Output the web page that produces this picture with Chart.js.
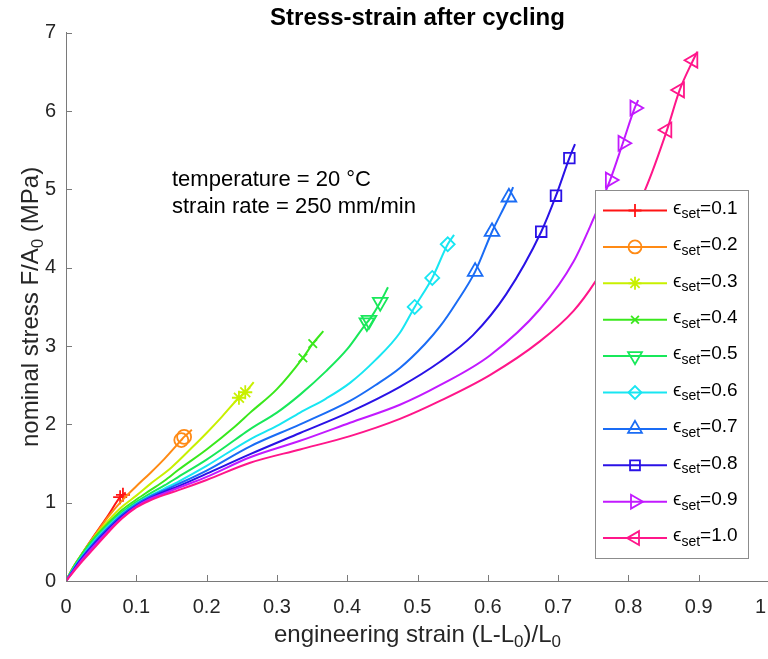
<!DOCTYPE html>
<html>
<head>
<meta charset="utf-8">
<script src="https://cdn.jsdelivr.net/npm/chart.js@4.4.1/dist/chart.umd.min.js"></script>
<style>
  html, body { margin: 0; padding: 0; background: #fff; overflow: hidden; }
  canvas { display: block; }
</style>
</head>
<body>
<canvas id="chart" width="800" height="659"></canvas>
<script>
const FONT = "'Liberation Sans', Arial, Helvetica, sans-serif";
const AXIS = '#7a7a7a';
const TEXT = '#262626';

// epsilon_set levels, one curve each
const levels = ['0.1', '0.2', '0.3', '0.4', '0.5', '0.6', '0.7', '0.8', '0.9', '1.0'];
const xTicks = [0, 0.1, 0.2, 0.3, 0.4, 0.5, 0.6, 0.7, 0.8, 0.9, 1];
const yTicks = [0, 1, 2, 3, 4, 5, 6, 7];

// [strain, stress MPa]
const curve01 = [[0,0],[0.01,0.17],[0.02,0.31],[0.04,0.58],[0.06,0.84],[0.077,1.07],[0.081,1.10],[0.085,1.13]];
const curve02 = [[0,0],[0.01,0.17],[0.02,0.31],[0.04,0.57],[0.06,0.82],[0.08,1.03],[0.1,1.21],[0.12,1.38],[0.14,1.56],[0.164,1.80],[0.168,1.84],[0.179,1.93]];
const curve03 = [[0,0],[0.01,0.17],[0.02,0.31],[0.04,0.56],[0.06,0.77],[0.08,0.95],[0.1,1.09],[0.12,1.24],[0.15,1.45],[0.18,1.71],[0.2,1.89],[0.22,2.08],[0.246,2.34],[0.255,2.41],[0.267,2.54]];
const curve04 = [[0,0],[0.01,0.17],[0.02,0.31],[0.04,0.55],[0.06,0.74],[0.08,0.91],[0.1,1.04],[0.12,1.16],[0.14,1.28],[0.16,1.42],[0.2,1.68],[0.24,1.97],[0.262,2.15],[0.3,2.45],[0.337,2.85],[0.351,3.03],[0.366,3.19]];
const curve05 = [[0,0],[0.01,0.16],[0.02,0.30],[0.04,0.53],[0.06,0.72],[0.08,0.88],[0.1,1.01],[0.12,1.12],[0.14,1.22],[0.16,1.33],[0.2,1.55],[0.24,1.80],[0.262,1.94],[0.3,2.15],[0.333,2.38],[0.37,2.68],[0.4,2.96],[0.428,3.30],[0.431,3.33],[0.447,3.56],[0.458,3.75]];
const curve06 = [[0,0],[0.01,0.15],[0.02,0.28],[0.04,0.51],[0.06,0.70],[0.08,0.86],[0.1,0.99],[0.12,1.09],[0.14,1.18],[0.16,1.27],[0.2,1.47],[0.262,1.81],[0.3,1.98],[0.333,2.15],[0.37,2.33],[0.404,2.53],[0.44,2.82],[0.475,3.17],[0.496,3.50],[0.521,3.87],[0.543,4.30],[0.552,4.42]];
const curve07 = [[0,0],[0.01,0.14],[0.02,0.27],[0.04,0.49],[0.06,0.68],[0.08,0.85],[0.1,0.98],[0.12,1.08],[0.14,1.16],[0.16,1.24],[0.2,1.41],[0.262,1.72],[0.333,2.0],[0.404,2.3],[0.44,2.5],[0.475,2.72],[0.51,3.02],[0.532,3.25],[0.555,3.55],[0.582,3.95],[0.606,4.46],[0.630,4.90],[0.636,5.03]];
const curve08 = [[0,0],[0.01,0.13],[0.02,0.26],[0.04,0.47],[0.06,0.66],[0.08,0.83],[0.1,0.96],[0.12,1.06],[0.14,1.14],[0.16,1.21],[0.2,1.37],[0.262,1.62],[0.333,1.89],[0.404,2.16],[0.475,2.48],[0.532,2.80],[0.579,3.14],[0.626,3.66],[0.676,4.46],[0.697,4.92],[0.716,5.40],[0.724,5.58]];
const curve09 = [[0,0],[0.01,0.12],[0.02,0.24],[0.04,0.45],[0.06,0.64],[0.08,0.81],[0.1,0.95],[0.12,1.05],[0.14,1.12],[0.16,1.19],[0.2,1.33],[0.262,1.58],[0.333,1.79],[0.404,2.02],[0.475,2.25],[0.532,2.50],[0.603,2.88],[0.674,3.47],[0.722,4.08],[0.753,4.68],[0.774,5.12],[0.792,5.59],[0.809,6.04],[0.814,6.14]];
const curve10 = [[0,0],[0.01,0.11],[0.02,0.22],[0.04,0.42],[0.06,0.62],[0.08,0.80],[0.1,0.94],[0.12,1.03],[0.14,1.10],[0.16,1.16],[0.2,1.29],[0.262,1.51],[0.333,1.68],[0.404,1.85],[0.475,2.07],[0.532,2.30],[0.603,2.63],[0.674,3.06],[0.722,3.45],[0.752,3.81],[0.79,4.40],[0.824,5.0],[0.855,5.76],[0.873,6.27],[0.892,6.65],[0.898,6.76]];

// cycle peaks marked on each curve
const peaks01 = [[0.077,1.07],[0.081,1.10]];
const peaks02 = [[0.164,1.80],[0.168,1.84]];
const peaks03 = [[0.246,2.34],[0.255,2.41]];
const peaks04 = [[0.337,2.85],[0.351,3.03]];
const peaks05 = [[0.428,3.30],[0.431,3.33],[0.447,3.56]];
const peaks06 = [[0.496,3.50],[0.521,3.87],[0.543,4.30]];
const peaks07 = [[0.582,3.95],[0.606,4.46],[0.630,4.90]];
const peaks08 = [[0.676,4.46],[0.697,4.92],[0.716,5.40]];
const peaks09 = [[0.774,5.12],[0.792,5.59],[0.809,6.04]];
const peaks10 = [[0.855,5.76],[0.873,6.27],[0.892,6.65]];

const curves = [curve01, curve02, curve03, curve04, curve05, curve06, curve07, curve08, curve09, curve10];
const peaks = [peaks01, peaks02, peaks03, peaks04, peaks05, peaks06, peaks07, peaks08, peaks09, peaks10];

const colors = ['#ff1414', '#ff8a14', '#c8f000', '#3ae81c', '#18e85a', '#18e6f2', '#1a6cf5', '#2a12e6', '#c21aff', '#ff168a'];
const markers = ['cross', 'circle', 'star', 'crossRot', 'triangle', 'rectRot', 'triangle', 'rect', 'triangle', 'triangle'];
const markerRot = [0, 0, 0, 0, 180, 0, 0, 0, 90, -90];
const markerSize = [7, 7, 7, 6, 8.5, 7, 8.5, 7.5, 8.5, 8.5];

const toXY = (pts) => pts.map(([x, y]) => ({ x, y }));

const datasets = [];
curves.forEach((c, i) => {
    datasets.push({
        label: 'eps ' + levels[i],
        data: toXY(c),
        borderColor: colors[i],
        borderWidth: 2,
        pointRadius: 0,
        cubicInterpolationMode: 'monotone',
        order: 20 - i * 2,
    });
    datasets.push({
        label: 'peaks ' + levels[i],
        data: toXY(peaks[i]),
        showLine: false,
        pointStyle: markers[i],
        pointRotation: markerRot[i],
        pointRadius: markerSize[i],
        pointBorderWidth: 1.8,
        pointBorderColor: colors[i],
        pointBackgroundColor: 'rgba(0,0,0,0)',
        order: 19 - i * 2,
    });
});

// text with subscripts: parts = [[text, isSub], ...]
function richText(ctx, parts, x, y, size, align) {
    const subSize = Math.round(size * 0.72);
    const widths = parts.map(([t, sub]) => {
        ctx.font = (sub ? subSize : size) + 'px ' + FONT;
        return ctx.measureText(t).width;
    });
    const total = widths.reduce((a, b) => a + b, 0);
    let cx = align === 'center' ? x - total / 2 : x;
    parts.forEach(([t, sub], k) => {
        ctx.font = (sub ? subSize : size) + 'px ' + FONT;
        ctx.fillText(t, cx, y + (sub ? size * 0.32 : 0));
        cx += widths[k];
    });
}

const decorations = {
    id: 'decorations',
    afterDraw(chart) {
        const { ctx, chartArea, scales } = chart;
        ctx.save();

        // inward ticks, MATLAB style
        ctx.strokeStyle = AXIS;
        ctx.lineWidth = 1;
        ctx.beginPath();
        xTicks.forEach((v) => {
            const px = Math.round(scales.x.getPixelForValue(v)) + 0.5;
            ctx.moveTo(px, chartArea.bottom);
            ctx.lineTo(px, chartArea.bottom - 6);
        });
        yTicks.forEach((v) => {
            const py = Math.round(scales.y.getPixelForValue(v)) + 0.5;
            ctx.moveTo(chartArea.left, py);
            ctx.lineTo(chartArea.left + 6, py);
        });
        ctx.stroke();

        // axis titles
        ctx.fillStyle = TEXT;
        ctx.textBaseline = 'middle';
        ctx.textAlign = 'left';
        const midX = (chartArea.left + chartArea.right) / 2;
        richText(ctx, [['engineering strain (L-L', false], ['0', true], [')/L', false], ['0', true]], midX, 635, 24, 'center');
        ctx.save();
        ctx.translate(31, (chartArea.top + chartArea.bottom) / 2);
        ctx.rotate(-Math.PI / 2);
        richText(ctx, [['nominal stress F/A', false], ['0', true], [' (MPa)', false]], 0, 0, 24, 'center');
        ctx.restore();

        // test conditions
        ctx.fillStyle = '#000';
        ctx.font = '22px ' + FONT;
        ctx.fillText('temperature = 20 °C', 172, 180);
        ctx.fillText('strain rate = 250 mm/min', 172, 207);

        // legend
        const bx = 595.5, by = 190.5, bw = 153, bh = 368;
        ctx.fillStyle = '#fff';
        ctx.fillRect(bx, by, bw, bh);
        ctx.strokeStyle = '#8c8c8c';
        ctx.lineWidth = 1;
        ctx.strokeRect(bx, by, bw, bh);
        levels.forEach((lv, i) => {
            const y = by + 20 + i * 36.4;
            ctx.strokeStyle = colors[i];
            ctx.lineWidth = 2;
            ctx.beginPath();
            ctx.moveTo(603, y);
            ctx.lineTo(667, y);
            ctx.stroke();
            ctx.lineWidth = 1.8;
            ctx.fillStyle = 'rgba(0,0,0,0)';
            Chart.helpers.drawPoint(ctx, { pointStyle: markers[i], rotation: markerRot[i], radius: markerSize[i] - 0.5, borderWidth: 1.8 }, 635, y);
            ctx.fillStyle = '#000';
            richText(ctx, [['\u03F5', false], ['set', true], ['=' + lv, false]], 673, y - 2, 19, 'left');
        });

        ctx.restore();
    },
};

new Chart(document.getElementById('chart'), {
    type: 'line',
    data: { datasets },
    options: {
        responsive: false,
        animation: false,
        layout: { padding: { left: 0, right: 31, top: 0, bottom: 0 } },
        plugins: {
            legend: { display: false },
            tooltip: { enabled: false },
            title: {
                display: true,
                fullSize: false,
                text: 'Stress-strain after cycling',
                color: '#000',
                font: { family: FONT, size: 24, weight: 'bold' },
                padding: { top: 4, bottom: 0 },
            },
        },
        scales: {
            x: {
                type: 'linear',
                min: 0,
                max: 1,
                afterBuildTicks: (s) => { s.ticks = xTicks.map((v) => ({ value: v })); },
                afterFit: (s) => { s.height = 78; },
                ticks: { color: TEXT, font: { family: FONT, size: 20 }, padding: 14, maxRotation: 0, autoSkip: false },
                grid: { drawOnChartArea: false, drawTicks: false },
                border: { color: AXIS, width: 1 },
            },
            y: {
                min: 0,
                max: 7,
                afterBuildTicks: (s) => { s.ticks = yTicks.map((v) => ({ value: v })); },
                afterFit: (s) => { s.width = 66; },
                ticks: { color: TEXT, font: { family: FONT, size: 20 }, padding: 10 },
                grid: { drawOnChartArea: false, drawTicks: false },
                border: { color: AXIS, width: 1 },
            },
        },
    },
    plugins: [decorations],
});
</script>
</body>
</html>
